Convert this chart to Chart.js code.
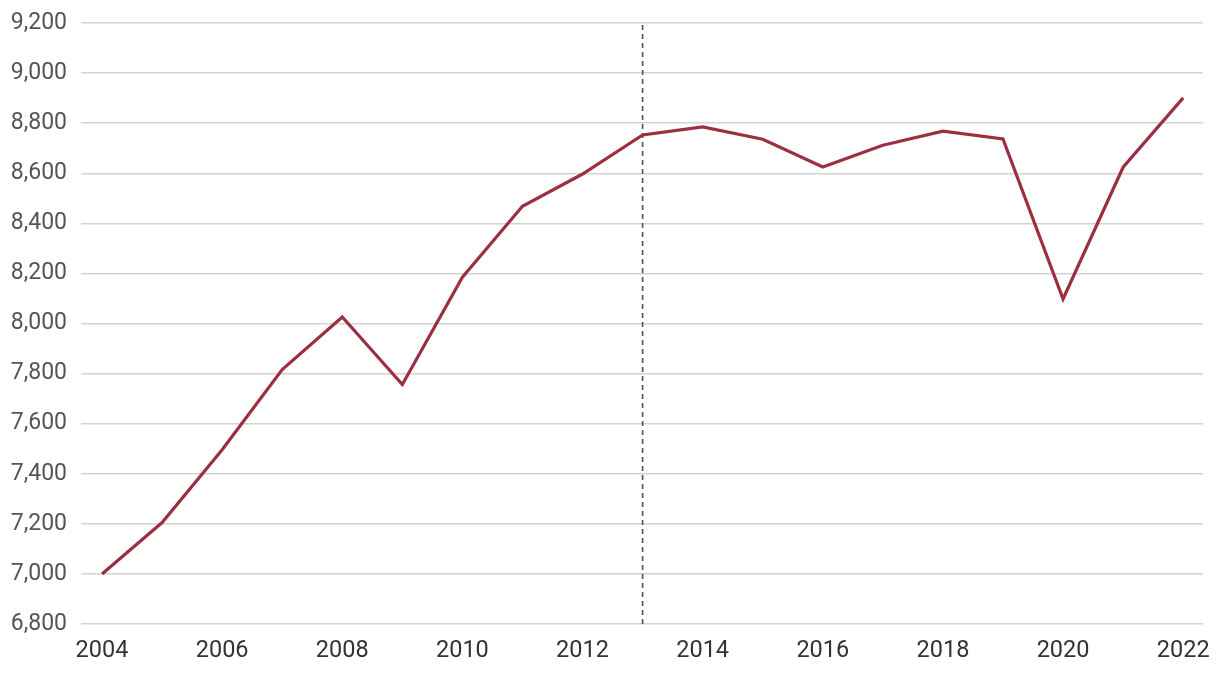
<!DOCTYPE html>
<html>
<head>
<meta charset="utf-8">
<script src="https://cdn.jsdelivr.net/npm/chart.js@4"></script>
<style>
html,body{margin:0;padding:0;background:#fff;}
#wrap{width:1220px;height:674px;position:relative;}
</style>
</head>
<body>
<div id="wrap"><canvas id="c" width="1220" height="674"></canvas></div>
<script>
const years = [2004,2005,2006,2007,2008,2009,2010,2011,2012,2013,2014,2015,2016,2017,2018,2019,2020,2021,2022];
const values = [7000,7205,7496,7816,8026,7756,8185,8468,8597,8753,8785,8736,8625,8712,8768,8737,8098,8624,8901];
const xTicks = [2004,2006,2008,2010,2012,2014,2016,2018,2020,2022];
const yTicks = [6800,7000,7200,7400,7600,7800,8000,8200,8400,8600,8800,9000,9200];
const markerYear = 2013;

const lineData = years.map((y,i)=>({x:y,y:values[i]}));
const markerData = [{x:markerYear,y:yTicks[0]},{x:markerYear,y:yTicks[yTicks.length-1]}];

new Chart(document.getElementById('c'), {
  type: 'line',
  data: {
    datasets: [
      {
        data: markerData,
        borderColor: '#4c5066',
        borderWidth: 1.6,
        borderDash: [5,4],
        pointRadius: 0,
        fill: false,
        order: 2
      },
      {
        data: lineData,
        borderColor: '#9c3040',
        borderWidth: 3.2,
        pointRadius: 0,
        tension: 0,
        fill: false,
        order: 1
      }
    ]
  },
  options: {
    responsive: false,
    animation: false,
    devicePixelRatio: 1,
    layout: { padding: { top: 23, right: 17, left: 0, bottom: 0 } },
    plugins: { legend: { display: false }, tooltip: { enabled: false } },
    scales: {
      x: {
        type: 'linear',
        min: 2003.65,
        max: 2022.33,
        afterBuildTicks: (s) => { s.ticks = xTicks.map(v=>({value:v})); },
        afterFit: (s) => { s.height = 50; s.paddingLeft = 0; s.paddingRight = 0; },
        grid: { display: false, drawTicks: false },
        border: { display: false },
        ticks: {
          padding: 13,
          maxRotation: 0,
          color: '#333333',
          font: { family: 'Roboto', size: 23.5 },
          callback: (v) => String(v)
        }
      },
      y: {
        min: 6800,
        max: 9200,
        afterBuildTicks: (s) => { s.ticks = yTicks.map(v=>({value:v})); },
        afterFit: (s) => { s.width = 81; s.paddingTop = 0; s.paddingBottom = 0; },
        grid: { color: '#d3d3d3', lineWidth: 1.5, drawTicks: false },
        border: { display: false },
        ticks: {
          padding: 14,
          color: '#555555',
          font: { family: 'Roboto', size: 23 },
          callback: (v) => v.toLocaleString('en-US')
        }
      }
    }
  }
});
</script>
</body>
</html>
